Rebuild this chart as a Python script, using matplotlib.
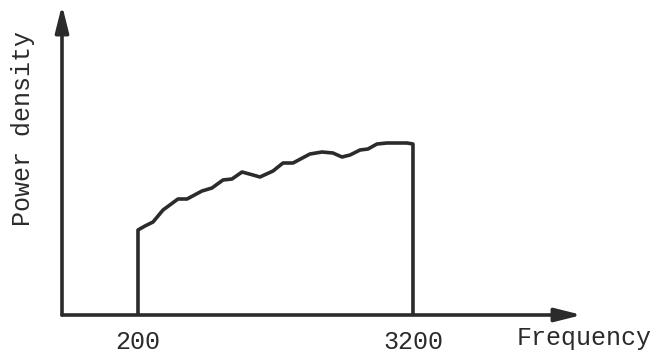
import matplotlib.pyplot as plt

# Spectrum sketch values (frequency in Hz, power density in arbitrary units)
freq = [200, 276, 364, 473, 636, 735, 898, 1007, 1127, 1225, 1335, 1455, 1531,
        1673, 1782, 1891, 2076, 2207, 2327, 2425, 2513, 2622, 2709, 2807, 2916,
        3025, 3135, 3200]
power = [85, 89, 93, 105, 116, 116, 124, 127, 135, 136, 143, 140, 138,
         144, 152, 152, 161, 163, 162, 158, 160, 165, 166, 171, 172,
         172, 172, 171]
tick_freqs = [200, 3200]
tick_labels = ['200', '3200']

plt.rcParams['font.family'] = ['Liberation Mono', 'DejaVu Sans Mono']
ink = '#2b2b2b'

fig = plt.figure(figsize=(6.59, 3.61), dpi=100)
ax = fig.add_axes([62 / 659, 46 / 361, 520 / 659, 310 / 361])

# band-limited spectrum: vertical edges at 200 and 3200 Hz
xs = [freq[0]] + freq + [freq[-1]]
ys = [0] + power + [0]
ax.plot(xs, ys, color=ink, lw=2.6, solid_joinstyle='round', solid_capstyle='round')

ax.set_xlim(-629, 5044)
ax.set_ylim(0, 310)
for s in ax.spines.values():
    s.set_visible(False)
ax.set_yticks([])
ax.set_xticks(tick_freqs)
ax.set_xticklabels(tick_labels, fontsize=18, color=ink)
ax.tick_params(axis='x', length=0, pad=11)

# axes drawn as arrows
arrow = dict(arrowstyle='-|>,head_length=1.6,head_width=0.4', color=ink, lw=2.6,
             shrinkA=0, shrinkB=0)
ax.annotate('', xy=(1, 0), xytext=(0, 0), xycoords='axes fraction', arrowprops=arrow)
ax.annotate('', xy=(0, 1), xytext=(0, 0), xycoords='axes fraction', arrowprops=arrow)

ax.text(0.875, -0.075, 'Frequency', transform=ax.transAxes, ha='left', va='center',
        fontsize=18, color=ink, clip_on=False)
ax.text(-0.075, 0.603, 'Power density', transform=ax.transAxes, ha='center', va='center',
        rotation=90, fontsize=18, color=ink, clip_on=False)

fig.savefig('out.png', dpi=100)
